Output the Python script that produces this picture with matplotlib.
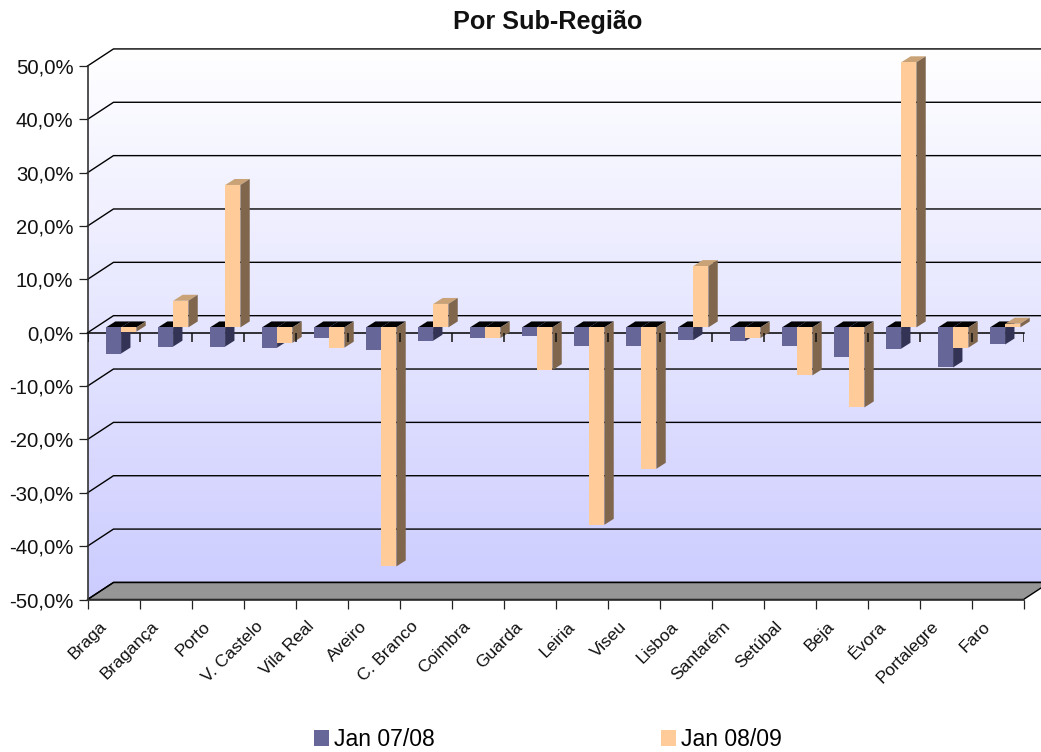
#!/usr/bin/env python3
"""Por Sub-Região: falso 3D em matplotlib"""

import matplotlib
matplotlib.use('Agg')
import matplotlib.pyplot as plt
import numpy as np
from matplotlib.patches import Patch, Polygon

plt.rcParams['font.family'] = ['Liberation Sans', 'DejaVu Sans']

# Dados
regioes = ['Braga', 'Bragança', 'Porto', 'V. Castelo', 'Vila Real', 'Aveiro',
           'C. Branco', 'Coimbra', 'Guarda', 'Leiria', 'Viseu', 'Lisboa',
           'Santarém', 'Setúbal', 'Beja', 'Évora', 'Portalegre', 'Faro']
jan_0708 = [-4.9, -3.6, -3.6, -3.8, -1.9, -4.2, -2.5, -1.9, -1.6, -3.4,
            -3.4, -2.4, -2.6, -3.5, -5.5, -4.0, -7.5, -3.2]
jan_0809 = [-0.8, 5.0, 26.7, -2.9, -3.8, -44.8, 4.4, -2.0, -8.0, -37.0,
            -26.5, 11.5, -2.0, -9.0, -15.0, 49.7, -3.8, 0.7]
series = ['Jan 07/08', 'Jan 08/09']
y_ticks = [-50, -40, -30, -20, -10, 0, 10, 20, 30, 40, 50]

# Cores: frente, lado, topo quando o valor é positivo
AZUL = ('#666699', '#333355', '#8585a8')
LARANJA = ('#ffcc99', '#80664d', '#c9a377')

# Profundidade da parede e das barras (unidades de dados)
WALL_DX, WALL_DY = 0.5, 3.2
BAR_DX, BAR_DY = 0.18, 1.12
BAR_W = 0.29
BASE_Y = 1.0   # o zero das barras fica acima do zero da frente


def draw_bar(ax, x0, valor, cores, z):
    """Desenha uma barra como três polígonos (frente, lado, topo)"""
    frente, lado, topo = cores
    x1 = x0 + BAR_W
    base = BASE_Y
    alto = base + valor
    y_top = max(base, alto)
    y_bot = min(base, alto)
    cor_topo = topo if valor > 0 else '#000000'

    ax.add_patch(Polygon([(x0, y_top), (x0 + BAR_DX, y_top + BAR_DY),
                          (x1 + BAR_DX, y_top + BAR_DY), (x1, y_top)],
                         fc=cor_topo, ec='none', clip_on=False, zorder=z))
    ax.add_patch(Polygon([(x1, y_bot), (x1 + BAR_DX, y_bot + BAR_DY),
                          (x1 + BAR_DX, y_top + BAR_DY), (x1, y_top)],
                         fc=lado, ec='none', clip_on=False, zorder=z))
    ax.add_patch(Polygon([(x0, y_bot), (x1, y_bot), (x1, y_top), (x0, y_top)],
                         fc=frente, ec='none', clip_on=False, zorder=z))


fig = plt.figure(figsize=(10.41, 7.52), dpi=100)
ax = fig.add_axes([87.5 / 1041, (752 - 599.5) / 752, 936 / 1041, 533.5 / 752])
n = len(regioes)
ax.set_xlim(0, n)
ax.set_ylim(-50, 50)
ax.patch.set_visible(False)

# Parede de fundo com gradiente (desce até -50 por causa da parede lateral)
grad = np.linspace(0, 1, 256)[:, None]
cores_grad = np.ones((256, 1, 3))
cores_grad[:, :, 0] = 1 - 0.2 * grad
cores_grad[:, :, 1] = 1 - 0.2 * grad
wall_top = 50 + WALL_DY
wall_bot = -50 + WALL_DY
im = ax.imshow(cores_grad, extent=[0, n + WALL_DX, -50, wall_top],
               aspect='auto', origin='upper', zorder=0)
parede = Polygon([(0, 50), (WALL_DX, wall_top), (n + WALL_DX, wall_top),
                  (n + WALL_DX, wall_bot), (WALL_DX, wall_bot), (0, -50)],
                 transform=ax.transData)
im.set_clip_box(fig.bbox)
im.set_clip_path(parede)
ax.set_xlim(0, n)
ax.set_ylim(-50, 50)

# Chão
ax.add_patch(Polygon([(0, -50), (WALL_DX, wall_bot), (n + WALL_DX, wall_bot), (n, -50)],
                     fc='#969696', ec='black', lw=1.0, clip_on=False, zorder=1))

# Linhas de grelha na parede
for v in y_ticks:
    ax.plot([0, WALL_DX, n + WALL_DX], [v, v + WALL_DY, v + WALL_DY],
            color='black', lw=1.0, clip_on=False, zorder=2)

# Eixo do zero
ax.plot([0, n], [0, 0], color='black', lw=1.1, clip_on=False, zorder=3)

# Barras
for i in range(n):
    draw_bar(ax, i + 0.356, jan_0708[i], AZUL, 4 + i * 0.01)
    draw_bar(ax, i + 0.65, jan_0809[i], LARANJA, 4.005 + i * 0.01)

# Marcas do eixo do zero, por cima das barras
ax.vlines(np.arange(n + 1), -1.7, 0, color='#111111', lw=1.1, zorder=5)

ax.set_yticks(y_ticks)
ax.set_yticklabels([f'{v},0%' for v in y_ticks], fontsize=14.6, color='#111111')
ax.tick_params(axis='y', length=6.2, width=0.9, pad=4.0, color='#222222')

ax.set_xticks(np.arange(n + 1))
ax.set_xticklabels([])
ax.tick_params(axis='x', which='major', length=6.5, width=0.9, color='#222222')
ax.set_xticks(np.arange(n) + 0.22, minor=True)
ax.set_xticklabels(regioes, minor=True, rotation=45, ha='right', va='top',
                   rotation_mode='anchor', fontsize=12.6, color='#111111')
ax.tick_params(axis='x', which='minor', length=0, pad=14)

for lado in ['top', 'right']:
    ax.spines[lado].set_visible(False)
for lado in ['left', 'bottom']:
    ax.spines[lado].set_color('#333333')
    ax.spines[lado].set_linewidth(1.2)

fig.text(547.5 / 1041, 1 - 22 / 752, 'Por Sub-Região', ha='center', va='center',
         fontsize=18.2, fontweight='bold', color='#111111')

handles = [Patch(fc=AZUL[0], ec='none', label=series[0]),
           Patch(fc=LARANJA[0], ec='none', label=series[1])]
fig.legend(handles=handles, loc='center', bbox_to_anchor=(548 / 1041, 1 - 739.5 / 752),
           ncol=2, frameon=False, fontsize=16.6, handlelength=0.65, handleheight=0.65,
           handletextpad=0.22, columnspacing=9.8, borderpad=0, borderaxespad=0)

fig.savefig('out.png', dpi=100)
